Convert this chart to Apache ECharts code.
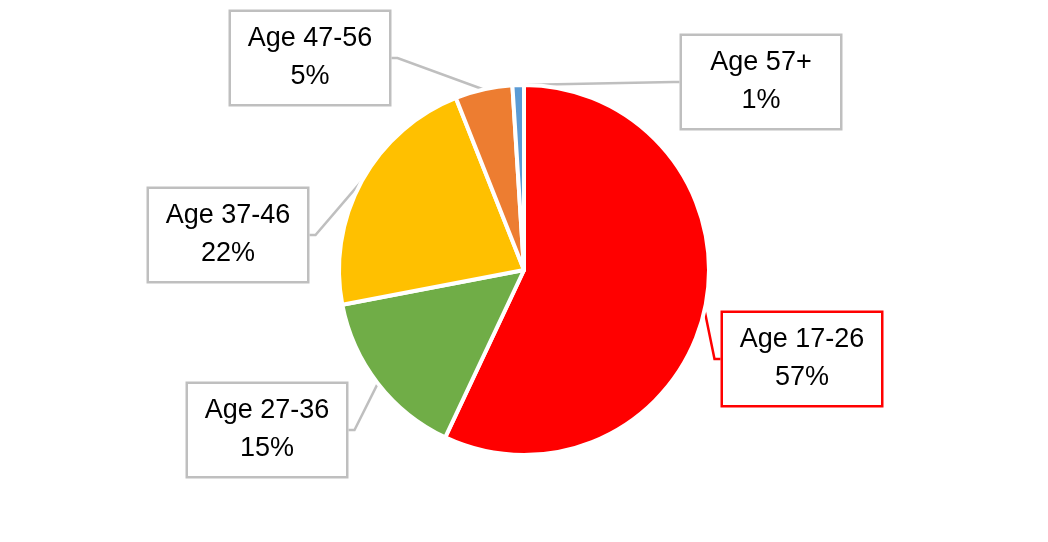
<!DOCTYPE html>
<html lang="en">
<head>
    <meta charset="UTF-8">
    <title>Age distribution</title>
    <style>
        * { margin: 0; padding: 0; box-sizing: border-box; }
        html, body { width: 100%; height: 100%; background: #fff; }
        #chart { width: 1048px; height: 542px; }
    </style>
</head>
<body>
    <div id="chart"></div>
</body>
<script src="https://cdn.jsdelivr.net/npm/echarts@6/dist/echarts.min.js"></script>
<script>
    // data
    var categories = ['Age 17-26', 'Age 27-36', 'Age 37-46', 'Age 47-56', 'Age 57+'];
    var values = [57, 15, 22, 5, 1];
    var colors = ['#ff0000', '#70ad47', '#ffc000', '#ed7d31', '#5b9bd5'];

    // where each callout box sits (centre of box)
    var labelPos = [[802, 359], [267, 430], [228, 235], [310, 58], [761, 82]];

    var chart = echarts.init(document.getElementById('chart'));

    var pieData = categories.map(function (name, i) {
        var item = {
            name: name,
            value: values[i],
            itemStyle: { color: colors[i] }
        };
        if (i === 0) {
            // the biggest slice gets a red callout
            item.label = { borderColor: '#ff0000' };
            item.labelLine = { lineStyle: { color: '#ff0000' } };
        }
        return item;
    });

    chart.setOption({
        backgroundColor: '#fff',
        animation: false,
        series: [{
            type: 'pie',
            center: [524, 270],
            radius: 185,
            startAngle: 90,
            clockwise: true,
            itemStyle: {
                borderColor: '#fff',
                borderWidth: 4
            },
            label: {
                show: true,
                position: 'outside',
                formatter: '{b}\n{d}%',
                fontFamily: 'Liberation Sans',
                fontSize: 27,
                lineHeight: 38,
                color: '#000',
                backgroundColor: '#fff',
                borderColor: '#bfbfbf',
                borderWidth: 2.5,
                padding: [8, 9],
                width: 140,
                align: 'center'
            },
            labelLine: {
                show: true,
                length: 20,
                length2: 6,
                lineStyle: { color: '#bfbfbf', width: 2.5 }
            },
            labelLayout: function (params) {
                var p = labelPos[params.dataIndex];
                return {
                    x: p[0],
                    y: p[1],
                    align: 'center',
                    verticalAlign: 'middle'
                };
            },
            emphasis: { disabled: true },
            data: pieData
        }]
    });
</script>
</html>
